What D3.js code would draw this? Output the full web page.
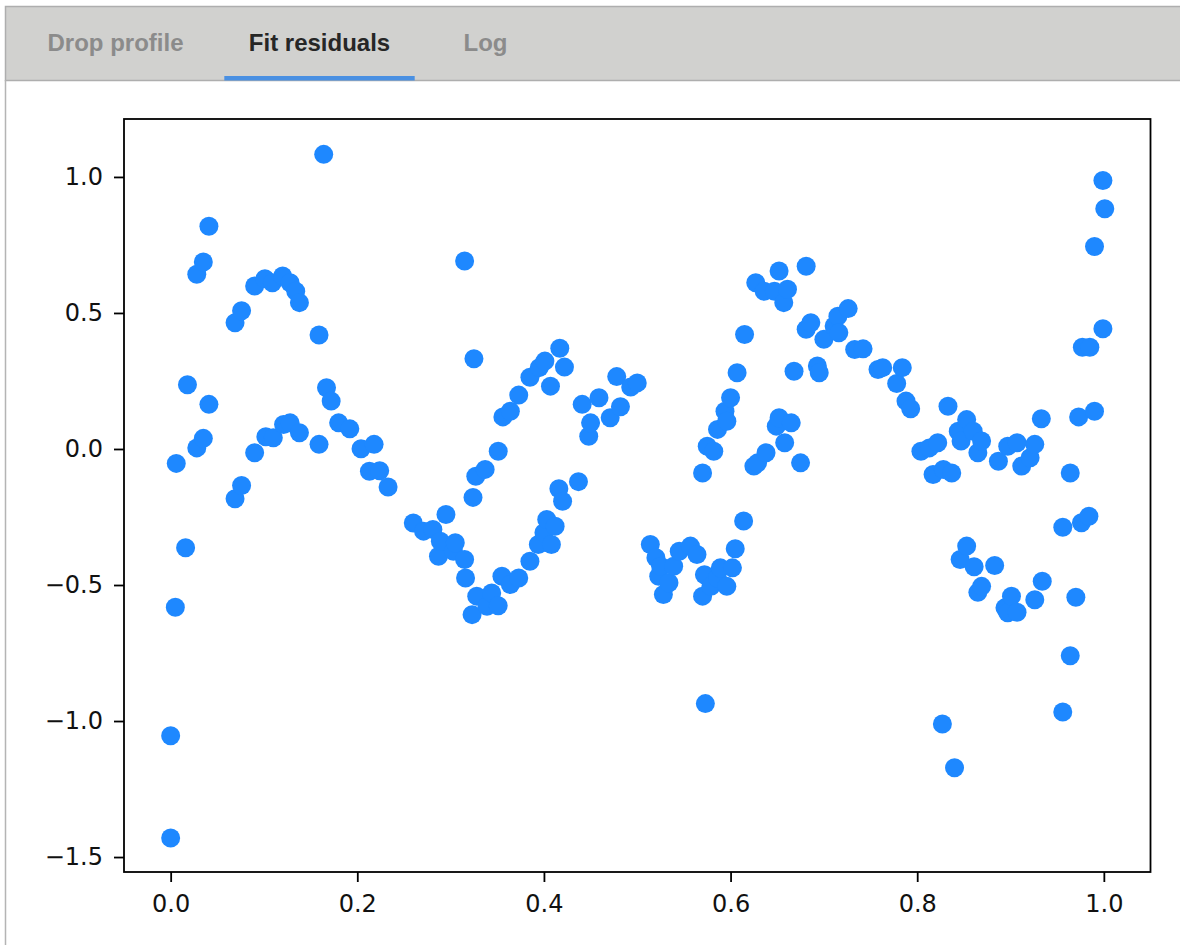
<!DOCTYPE html>
<html>
<head>
<meta charset="utf-8">
<script src="https://cdn.jsdelivr.net/npm/d3@7"></script>
<style>
  body { margin: 0; background: #fff; }
  svg { display: block; }
</style>
</head>
<body>
<svg width="1180" height="945"></svg>
<script>
// tabs across the top
var tabNames = ['Drop profile', 'Fit residuals', 'Log'];
var activeTab = 'Fit residuals';

// residuals
var residX = [0.000, 0.000, 0.005, 0.006, 0.016, 0.018, 0.028, 0.028, 0.035, 0.035,
    0.041, 0.041, 0.069, 0.069, 0.076, 0.076, 0.090, 0.090, 0.101, 0.102,
    0.109, 0.110, 0.120, 0.121, 0.128, 0.128, 0.134, 0.138, 0.138, 0.159,
    0.159, 0.164, 0.167, 0.172, 0.180, 0.192, 0.204, 0.213, 0.218, 0.224,
    0.233, 0.260, 0.271, 0.281, 0.287, 0.289, 0.295, 0.303, 0.305, 0.315,
    0.315, 0.316, 0.323, 0.324, 0.325, 0.327, 0.328, 0.337, 0.339, 0.344,
    0.351, 0.351, 0.355, 0.356, 0.364, 0.364, 0.373, 0.373, 0.385, 0.385,
    0.394, 0.395, 0.400, 0.401, 0.403, 0.407, 0.408, 0.412, 0.416, 0.417,
    0.420, 0.422, 0.437, 0.441, 0.448, 0.450, 0.459, 0.471, 0.478, 0.482,
    0.493, 0.500, 0.514, 0.520, 0.523, 0.525, 0.528, 0.534, 0.539, 0.545,
    0.557, 0.564, 0.570, 0.570, 0.572, 0.573, 0.575, 0.579, 0.582, 0.586,
    0.586, 0.589, 0.594, 0.596, 0.596, 0.600, 0.602, 0.605, 0.607, 0.614,
    0.615, 0.625, 0.627, 0.629, 0.636, 0.638, 0.647, 0.649, 0.652, 0.652,
    0.657, 0.658, 0.661, 0.665, 0.668, 0.675, 0.681, 0.681, 0.686, 0.693,
    0.695, 0.700, 0.711, 0.715, 0.716, 0.726, 0.733, 0.742, 0.758, 0.763,
    0.778, 0.784, 0.788, 0.793, 0.804, 0.813, 0.817, 0.822, 0.827, 0.828,
    0.833, 0.837, 0.840, 0.844, 0.846, 0.847, 0.853, 0.853, 0.860, 0.861,
    0.865, 0.865, 0.869, 0.869, 0.883, 0.887, 0.894, 0.897, 0.897, 0.901,
    0.907, 0.907, 0.912, 0.921, 0.926, 0.926, 0.933, 0.934, 0.956, 0.956,
    0.964, 0.964, 0.970, 0.973, 0.976, 0.977, 0.984, 0.985, 0.990, 0.990,
    0.999, 0.999, 1.001];
var residY = [-1.430, -1.054, -0.582, -0.053, -0.363, 0.236, 0.004, 0.642, 0.039, 0.687,
    0.164, 0.819, -0.183, 0.464, -0.134, 0.508, -0.014, 0.599, 0.626, 0.045,
    0.611, 0.041, 0.636, 0.090, 0.611, 0.096, 0.580, 0.538, 0.060, 0.419,
    0.017, 1.083, 0.225, 0.176, 0.096, 0.074, 0.001, -0.082, 0.017, -0.080,
    -0.140, -0.272, -0.302, -0.296, -0.394, -0.339, -0.241, -0.376, -0.345, 0.691,
    -0.406, -0.474, -0.609, -0.178, 0.332, -0.100, -0.541, -0.075, -0.578, -0.529,
    -0.008, -0.576, -0.468, 0.118, 0.139, -0.498, 0.198, -0.474, 0.264, -0.413,
    -0.351, 0.299, -0.308, 0.323, -0.259, 0.231, -0.351, -0.284, -0.146, 0.370,
    -0.192, 0.301, -0.120, 0.164, 0.047, 0.096, 0.188, 0.115, 0.266, 0.155,
    0.228, 0.243, -0.351, -0.400, -0.468, -0.431, -0.535, -0.492, -0.431, -0.376,
    -0.357, -0.388, -0.088, -0.541, -0.462, -0.936, 0.010, -0.505, -0.008, 0.072,
    -0.474, -0.437, 0.139, 0.102, -0.505, 0.188, -0.437, -0.367, 0.280, -0.265,
    0.421, -0.063, 0.611, -0.051, 0.580, -0.014, 0.580, 0.084, 0.654, 0.115,
    0.538, 0.023, 0.587, 0.096, 0.286, -0.051, 0.672, 0.440, 0.464, 0.305,
    0.280, 0.403, 0.452, 0.488, 0.427, 0.516, 0.366, 0.368, 0.292, 0.299,
    0.241, 0.299, 0.176, 0.148, -0.008, 0.004, -0.094, 0.023, -1.011, -0.075,
    0.157, -0.088, -1.172, 0.065, -0.406, 0.029, 0.108, -0.357, 0.065, -0.433,
    -0.014, -0.527, 0.029, -0.505, -0.428, -0.045, -0.584, 0.010, -0.602, -0.541,
    0.023, -0.600, -0.063, -0.032, 0.017, -0.554, 0.111, -0.486, -0.288, -0.967,
    -0.088, -0.760, -0.545, 0.118, -0.271, 0.374, -0.247, 0.374, 0.139, 0.744,
    0.987, 0.442, 0.883];

var xTicks = [0.0, 0.2, 0.4, 0.6, 0.8, 1.0];
var yTicks = [-1.5, -1.0, -0.5, 0.0, 0.5, 1.0];

var points = residX.map(function(x, i){
    return {x: x, y: residY[i]};
});

var svg = d3.select('svg');

// tab bar
var tabCentres = [115.5, 319.5, 485.5];

svg.append('rect')
    .attr('x', 5.5)
    .attr('y', 6.5)
    .attr('width', 1180)
    .attr('height', 74)
    .attr('fill', '#d1d1cf')
    .attr('stroke', '#aeaeae')
    .attr('stroke-width', 1.5);

svg.append('line')
    .attr('x1', 5.5).attr('x2', 5.5)
    .attr('y1', 80).attr('y2', 945)
    .attr('stroke', '#b4b4b4')
    .attr('stroke-width', 1.5);

var tabs = svg.selectAll('.tab')
    .data(tabNames)
    .enter()
    .append('text')
    .attr('class', 'tab')
    .attr('x', function(d, i){ return tabCentres[i]; })
    .attr('y', 51)
    .attr('text-anchor', 'middle')
    .style('font-family', '"Liberation Sans", Arial, sans-serif')
    .style('font-weight', 'bold')
    .style('font-size', '24px')
    .attr('fill', function(d){ return d == activeTab ? '#262626' : '#8b8b8b'; })
    .text(function(d){ return d; });

tabs.each(function(d, i){
    if (d != activeTab) return;
    var w = this.getComputedTextLength() + 49;
    svg.append('rect')
        .attr('x', tabCentres[i] - w / 2)
        .attr('y', 76)
        .attr('width', w)
        .attr('height', 4.5)
        .attr('fill', '#4a90e2');
});

// plot box
var plotLeft = 124, plotRight = 1150.5, plotTop = 119, plotBottom = 872;

var ScaleX = d3.scaleLinear().domain([-0.05, 1.05]).range([plotLeft, plotRight]);
var ScaleY = d3.scaleLinear().domain([-1.555, 1.213]).range([plotBottom, plotTop]);

var fmt = d3.format('.1f');

var gx = svg.append('g')
    .attr('transform', 'translate(0,' + plotBottom + ')')
    .call(d3.axisBottom(ScaleX).tickValues(xTicks).tickFormat(fmt)
        .tickSizeInner(10).tickSizeOuter(0).tickPadding(13));

var gy = svg.append('g')
    .attr('transform', 'translate(' + plotLeft + ',0)')
    .call(d3.axisLeft(ScaleY).tickValues(yTicks).tickFormat(fmt)
        .tickSizeInner(10).tickSizeOuter(0).tickPadding(11));

[gx, gy].forEach(function(g){
    g.select('.domain').remove();
    g.selectAll('.tick line').attr('stroke', '#000').attr('stroke-width', 1.8);
    g.selectAll('.tick text')
        .attr('fill', '#111')
        .style('font-family', '"DejaVu Sans", sans-serif')
        .style('font-size', '24px');
});

svg.selectAll('.resid')
    .data(points)
    .enter()
    .append('circle')
    .attr('class', 'resid')
    .attr('cx', function(d){ return ScaleX(d.x); })
    .attr('cy', function(d){ return ScaleY(d.y); })
    .attr('r', 9.5)
    .attr('fill', '#1e88ff');

svg.append('rect')
    .attr('x', plotLeft)
    .attr('y', plotTop)
    .attr('width', plotRight - plotLeft)
    .attr('height', plotBottom - plotTop)
    .attr('fill', 'none')
    .attr('stroke', '#000')
    .attr('stroke-width', 1.8);
</script>
</body>
</html>
